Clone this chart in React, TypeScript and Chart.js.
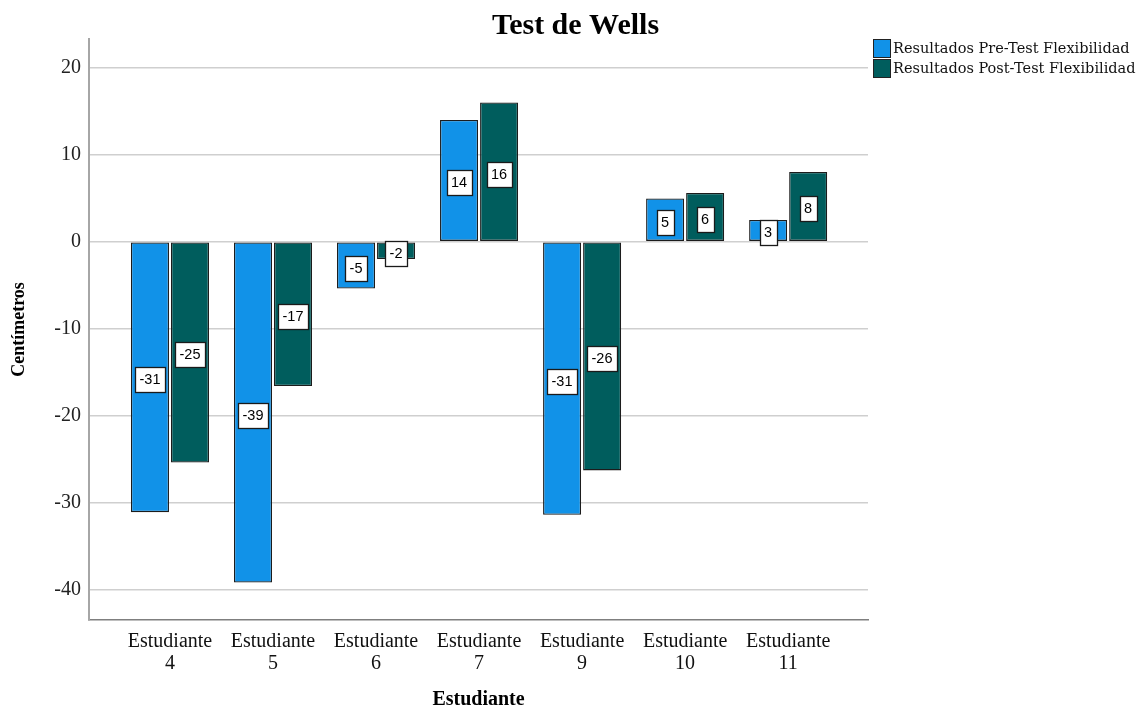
import React, { useEffect, useRef } from 'react';
import { Chart, registerables } from 'chart.js';

Chart.register(...registerables);

// ---- data ----
const categories: string[] = [
  'Estudiante 4',
  'Estudiante 5',
  'Estudiante 6',
  'Estudiante 7',
  'Estudiante 9',
  'Estudiante 10',
  'Estudiante 11',
];
const preValues: number[] = [-31.1, -39.2, -5.4, 14.0, -31.4, 4.97, 2.5];
const postValues: number[] = [-25.4, -16.6, -2.0, 16.0, -26.3, 5.6, 8.0];
const seriesNames: string[] = ['Resultados Pre-Test Flexibilidad', 'Resultados Post-Test Flexibilidad'];
const seriesColors: string[] = ['#1192e8', '#005d5d'];
const titleText = 'Test de Wells';
const xTitle = 'Estudiante';
const yTitle = 'Centímetros';

const W = 1143;
const H = 712;

const titlePlugin = {
  id: 'customTitle',
  afterDraw(chart: any) {
    const ctx = chart.ctx;
    ctx.save();
    ctx.font = 'bold 30px "Liberation Serif", "Times New Roman", serif';
    ctx.fillStyle = '#000';
    ctx.textAlign = 'center';
    ctx.textBaseline = 'middle';
    ctx.fillText(titleText, chart.width / 2 + 4, 26);
    ctx.restore();
  },
};

const legendPlugin = {
  id: 'customLegend',
  afterDraw(chart: any) {
    const ctx = chart.ctx;
    const x0 = chart.chartArea.right + 5;
    const y0 = chart.chartArea.top;
    ctx.save();
    ctx.font = '14.5px "DejaVu Serif", serif';
    ctx.textBaseline = 'middle';
    ctx.textAlign = 'left';
    seriesNames.forEach((name, i) => {
      const y = y0 + i * 20;
      ctx.fillStyle = seriesColors[i];
      ctx.fillRect(x0, y, 17, 18);
      ctx.strokeStyle = '#222';
      ctx.lineWidth = 1;
      ctx.strokeRect(x0 + 0.5, y + 0.5, 17, 18);
      ctx.fillStyle = '#111';
      ctx.fillText(name, x0 + 20, y + 10);
    });
    ctx.restore();
  },
};

const dataLabelPlugin = {
  id: 'barLabels',
  afterDatasetsDraw(chart: any) {
    const ctx = chart.ctx;
    ctx.save();
    ctx.font = '14.5px "Liberation Sans", Arial, sans-serif';
    ctx.textAlign = 'center';
    ctx.textBaseline = 'middle';
    chart.data.datasets.forEach((ds: any, di: number) => {
      const meta = chart.getDatasetMeta(di);
      meta.data.forEach((bar: any, i: number) => {
        const v = ds.data[i].y;
        const txt = String(Math.round(v));
        const cx = Math.round(bar.x);
        const cy = Math.round((bar.y + bar.base) / 2) + 2;
        const tw = ctx.measureText(txt).width;
        const bw = Math.round(tw + 9);
        const bh = 25;
        const left = Math.round(cx - bw / 2);
        const top = Math.round(cy - bh / 2);
        ctx.fillStyle = '#fff';
        ctx.fillRect(left, top, bw, bh);
        ctx.strokeStyle = '#1a1a1a';
        ctx.lineWidth = 1.3;
        ctx.strokeRect(left + 0.5, top + 0.5, bw, bh);
        ctx.fillStyle = '#000';
        ctx.fillText(txt, cx, cy + 1);
      });
    });
    ctx.restore();
  },
};

export default function App() {
  const ref = useRef<HTMLCanvasElement | null>(null);

  useEffect(() => {
    document.body.style.margin = '0';
    const canvas = ref.current;
    if (!canvas) return;
    const serif = '"Liberation Serif", "Times New Roman", serif';
    const chart = new Chart(canvas, {
      type: 'bar',
      data: {
        datasets: [
          {
            label: seriesNames[0],
            data: preValues.map((v, i) => ({ x: i, y: v })),
            backgroundColor: seriesColors[0],
            borderColor: '#1c1c1c',
            borderWidth: 1.3,
            borderSkipped: false,
            categoryPercentage: 0.777,
            barPercentage: 0.95,
          },
          {
            label: seriesNames[1],
            data: postValues.map((v, i) => ({ x: i, y: v })),
            backgroundColor: seriesColors[1],
            borderColor: '#1c1c1c',
            borderWidth: 1.3,
            borderSkipped: false,
            categoryPercentage: 0.777,
            barPercentage: 0.95,
          },
        ],
      },
      options: {
        responsive: false,
        animation: false,
        devicePixelRatio: 1,
        layout: { padding: { left: 0, top: 39, right: W - 868, bottom: 0 } },
        plugins: {
          legend: { display: false },
          title: { display: false },
          tooltip: { enabled: false },
        },
        scales: {
          x: {
            type: 'linear',
            offset: false,
            min: -0.786,
            max: 6.775,
            afterFit(scale: any) {
              scale.height = H - 620;
            },
            grid: { display: false, drawTicks: false, offset: false },
            border: { display: true, color: '#7f7f7f', width: 1.5 },
            ticks: {
              stepSize: 1,
              includeBounds: false,
              autoSkip: false,
              maxRotation: 0,
              padding: 11,
              color: '#111',
              font: { family: serif, size: 20, lineHeight: 1.1 },
              callback: (value: any) => {
                const i = Math.round(Number(value));
                if (Math.abs(Number(value) - i) > 1e-6 || i < 0 || i >= categories.length) return '';
                return categories[i].split(' ');
              },
            },
            title: {
              display: true,
              text: xTitle,
              color: '#000',
              font: { family: serif, size: 20, weight: 'bold', lineHeight: 1.2 },
              padding: { top: 0, bottom: 0 },
            },
          },
          y: {
            min: -43.5,
            max: 23.3,
            afterFit(scale: any) {
              scale.width = 89;
            },
            grid: { color: '#cfcfcf', lineWidth: 1.5, drawTicks: false },
            border: { display: true, color: '#a6a6a6', width: 2 },
            ticks: {
              stepSize: 10,
              includeBounds: false,
              padding: 8,
              color: '#222',
              font: { family: serif, size: 20 },
            },
            title: {
              display: true,
              text: yTitle,
              color: '#000',
              font: { family: serif, size: 18, weight: 'bold', lineHeight: 1.2 },
              padding: { top: 9, bottom: 0 },
            },
          },
        },
      } as any,
      plugins: [dataLabelPlugin, titlePlugin, legendPlugin],
    });
    return () => chart.destroy();
  }, []);

  return (
    <div style={{ width: W, height: H, background: '#fff' }}>
      <canvas ref={ref} width={W} height={H} style={{ display: 'block' }} />
    </div>
  );
}
